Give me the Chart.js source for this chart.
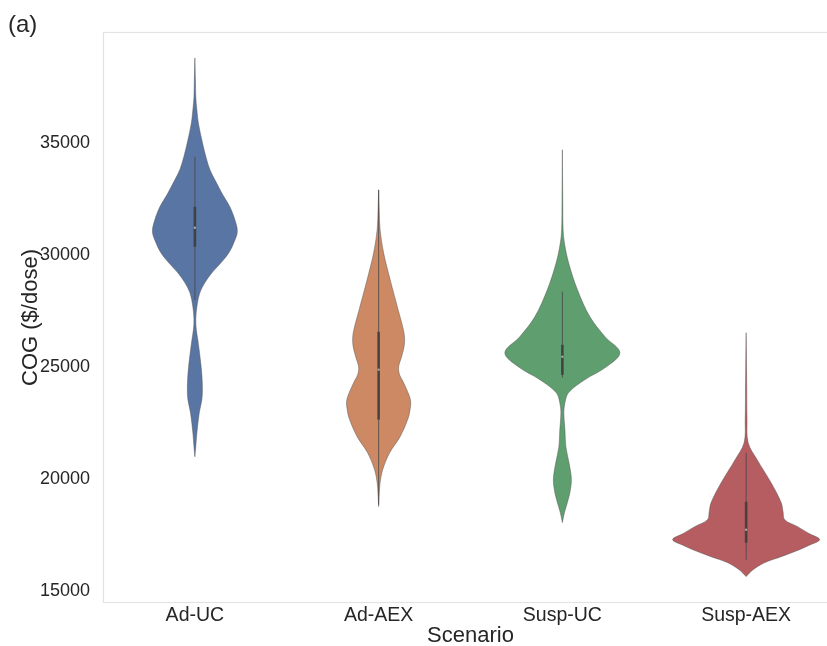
<!DOCTYPE html>
<html>
<head>
<meta charset="utf-8">
<title>COG by scenario</title>
<script src="https://cdn.jsdelivr.net/npm/chart.js@4.4.1/dist/chart.umd.min.js"></script>
<style>
  html, body { margin: 0; padding: 0; background: #ffffff; overflow: hidden; }
  #wrap { position: relative; width: 827px; height: 646px; overflow: hidden; }
  #chart { position: absolute; left: 0; top: 0; }
  #panel { position: absolute; left: 8px; top: 12px; font: 24px "Liberation Sans", Arial, sans-serif; line-height: 1; color: #262626; }
</style>
</head>
<body>
<div id="wrap">
  <canvas id="chart" width="860" height="646"></canvas>
  <div id="panel">(a)</div>
</div>
<script>
// Scenarios on the x axis
const categories = ['Ad-UC', 'Ad-AEX', 'Susp-UC', 'Susp-AEX'];
const yTickValues = [15000, 20000, 25000, 30000, 35000];

// Kernel density profiles: COG value ($/dose) and scaled density (half-width in category units)
const adUcCog = [38790, 37810, 37050, 36470, 35890, 35130, 34380, 33800, 33350, 32680, 32140, 31560, 31030, 30540, 30090, 29640, 29200, 28750, 28300, 27680, 27100, 26650, 26210, 25310, 24640, 23970, 23530, 22950, 22050, 21430, 20980];
const adUcDensity = [0, 0.003, 0.005, 0.011, 0.019, 0.038, 0.060, 0.082, 0.109, 0.152, 0.191, 0.218, 0.231, 0.212, 0.185, 0.142, 0.093, 0.054, 0.027, 0.011, 0.005, 0.008, 0.016, 0.030, 0.038, 0.041, 0.038, 0.024, 0.011, 0.005, 0];

const adAexCog = [32900, 32010, 31120, 30090, 28880, 27550, 26520, 25980, 25450, 25000, 24640, 24290, 23530, 23080, 22640, 21880, 21160, 20400, 19820, 19290, 18750];
const adAexDensity = [0, 0.003, 0.008, 0.027, 0.063, 0.106, 0.138, 0.140, 0.125, 0.109, 0.114, 0.136, 0.173, 0.171, 0.158, 0.117, 0.060, 0.022, 0.008, 0.003, 0];

const suspUcCog = [34690, 32460, 31120, 30540, 29640, 28440, 27230, 26340, 25630, 25000, 24420, 23840, 23390, 22950, 22190, 21430, 20630, 19960, 19380, 18930, 18480, 18040];
const suspUcDensity = [0, 0.002, 0.004, 0.011, 0.034, 0.082, 0.150, 0.232, 0.313, 0.240, 0.122, 0.033, 0.014, 0.008, 0.014, 0.019, 0.038, 0.049, 0.041, 0.027, 0.011, 0];

const suspAexCog = [26520, 24420, 22640, 21610, 20850, 19820, 18930, 18530, 18170, 17860, 17550, 17280, 17010, 16830, 16520, 16250, 15940, 15630];
const suspAexDensity = [0, 0.003, 0.005, 0.011, 0.060, 0.136, 0.191, 0.201, 0.210, 0.280, 0.343, 0.400, 0.338, 0.290, 0.191, 0.100, 0.038, 0];

// Box summaries drawn inside each violin
const whiskerLow  = [27990, 18840, 24510, 16380];
const quartile1   = [30360, 22640, 24640, 17140];
const medians     = [31210, 24870, 25450, 17720];
const quartile3   = [32140, 26560, 25980, 18970];
const whiskerHigh = [34380, 32900, 28350, 21160];

const profiles = [
  [adUcCog, adUcDensity],
  [adAexCog, adAexDensity],
  [suspUcCog, suspUcDensity],
  [suspAexCog, suspAexDensity]
];
const violinColors = ['#5975a4', '#cc8963', '#5f9e6e', '#b55d60'];
const FONT = '"Liberation Sans", Arial, sans-serif';
const TEXT = '#262626';

// Closed outline: down the right side, back up the left side
function violinOutline(pos, cog, dens) {
  const right = cog.map((v, k) => ({ x: pos + dens[k], y: v }));
  const left = cog.map((v, k) => ({ x: pos - dens[k], y: v })).reverse();
  return right.concat(left);
}

const datasets = [];
profiles.forEach(([cog, dens], i) => {
  datasets.push({
    type: 'line',
    data: violinOutline(i, cog, dens),
    backgroundColor: violinColors[i],
    borderColor: 'rgba(80,80,80,0.5)',
    borderWidth: 0.9,
    fill: 'shape',
    tension: 0.35,
    pointRadius: 0,
    order: 3
  });
  datasets.push({
    type: 'line',
    data: [{ x: i, y: whiskerLow[i] }, { x: i, y: whiskerHigh[i] }],
    borderColor: 'rgba(70,70,70,0.8)',
    borderWidth: 1,
    pointRadius: 0,
    fill: false,
    order: 2
  });
  datasets.push({
    type: 'line',
    data: [{ x: i, y: quartile1[i] }, { x: i, y: quartile3[i] }],
    borderColor: 'rgba(60,60,60,0.85)',
    borderWidth: 2.6,
    borderCapStyle: 'butt',
    pointRadius: 0,
    fill: false,
    order: 1
  });
});
datasets.push({
  type: 'scatter',
  data: medians.map((m, i) => ({ x: i, y: m })),
  backgroundColor: 'rgba(190,190,190,0.8)',
  borderWidth: 0,
  pointRadius: 1.2,
  order: 0
});

// Light frame around the plotting area
const framePlugin = {
  id: 'frame',
  beforeDatasetsDraw(chart) {
    const { ctx, chartArea: a } = chart;
    ctx.save();
    ctx.strokeStyle = '#e3e3e3';
    ctx.lineWidth = 1.2;
    ctx.strokeRect(a.left + 0.5, a.top + 0.5, a.right - a.left - 1, a.bottom - a.top - 1);
    ctx.restore();
  }
};

new Chart(document.getElementById('chart'), {
  data: { datasets },
  plugins: [framePlugin],
  options: {
    responsive: false,
    animation: false,
    devicePixelRatio: 1,
    layout: { padding: { left: 0, top: 32, right: 22, bottom: 0 } },
    plugins: { legend: { display: false }, tooltip: { enabled: false } },
    scales: {
      x: {
        type: 'linear',
        min: -0.5,
        max: 3.5,
        afterBuildTicks(scale) { scale.ticks = categories.map((_, i) => ({ value: i })); },
        afterFit(scale) { scale.height = 43; },
        grid: { display: false, drawTicks: false },
        border: { display: false },
        ticks: {
          autoSkip: false,
          maxRotation: 0,
          padding: 1,
          color: TEXT,
          font: { family: FONT, size: 19.5 },
          callback: (v) => categories[v]
        },
        title: {
          display: true,
          text: 'Scenario',
          color: TEXT,
          font: { family: FONT, size: 22, lineHeight: 1 },
          padding: { top: 0, bottom: -1 }
        }
      },
      y: {
        type: 'linear',
        min: 14450,
        max: 39950,
        afterBuildTicks(scale) { scale.ticks = yTickValues.map(v => ({ value: v })); },
        afterFit(scale) { scale.width = 103; },
        grid: { display: false, drawTicks: false },
        border: { display: false },
        ticks: {
          padding: 13,
          color: TEXT,
          font: { family: FONT, size: 18 },
          callback: (v) => String(v)
        },
        title: {
          display: true,
          text: 'COG ($/dose)',
          color: TEXT,
          font: { family: FONT, size: 22, lineHeight: 1 },
          padding: { top: 20, bottom: 0 }
        }
      }
    }
  }
});
</script>
</body>
</html>
